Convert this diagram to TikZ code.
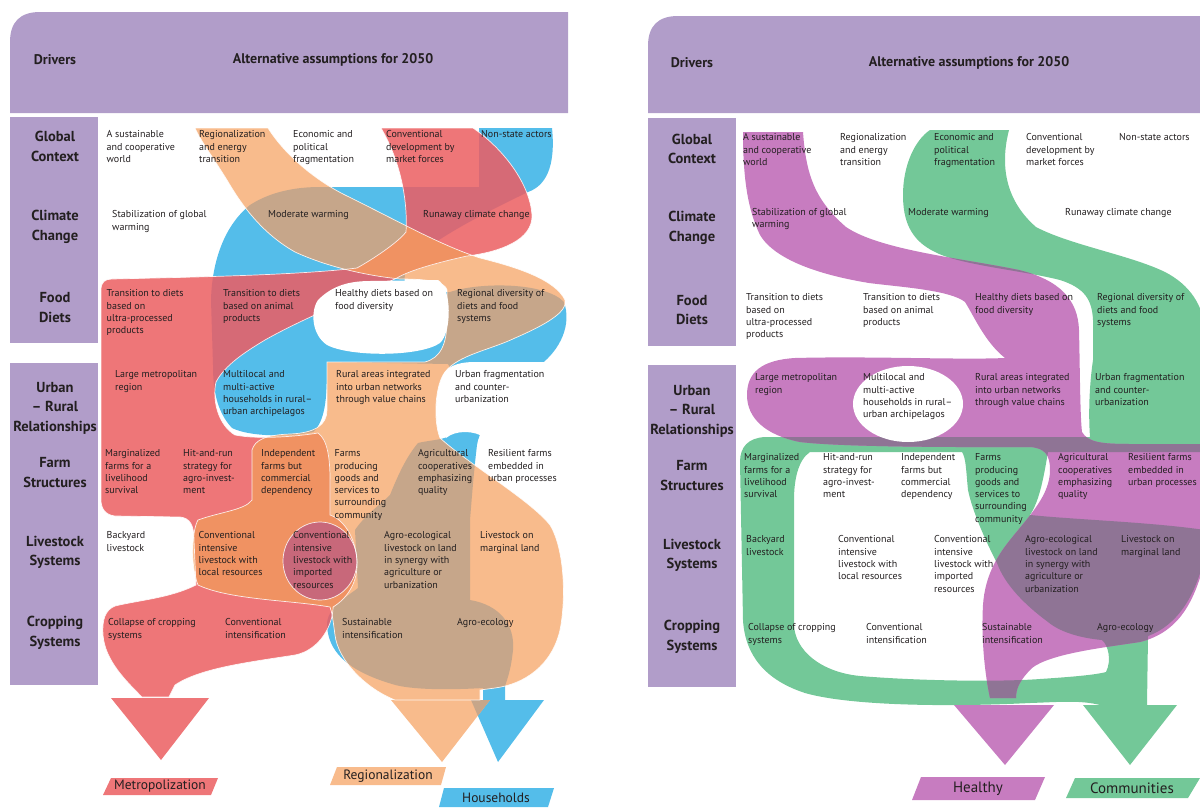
\documentclass[tikz,border=0pt]{standalone}
\usepackage{fontspec}
\setmainfont{PT Sans}
\definecolor{hdr}{RGB}{177,157,201}
\definecolor{txtc}{RGB}{35,31,32}
\definecolor{bl}{RGB}{84,189,234}
\definecolor{orc}{RGB}{248,187,140}
\definecolor{rdc}{RGB}{238,118,120}
\definecolor{brc}{RGB}{198,166,138}
\definecolor{drc}{RGB}{214,106,118}
\definecolor{doc}{RGB}{240,146,98}
\definecolor{mvc}{RGB}{200,104,122}
\definecolor{puc}{RGB}{199,124,192}
\definecolor{grc}{RGB}{115,200,152}
\definecolor{gyc}{RGB}{143,116,149}
\newcommand{\mycell}[4]{\node[cell] (#1) at (#2,#3) {#4};}
\newcommand{\myrow}[4]{\node[rowlab] (#1) at (#2,#3) {#4};}
% ---------- left panel paths
\def\pBlueL{(479,128) -- (552,128) .. controls (556,168) and (545,186) .. (528,192) .. controls (495,208) and (440,235) .. (415,258) .. controls (405,268) and (400,280) .. (410,292) -- (450,292) .. controls (480,282) and (545,282) .. (564,302) .. controls (572,325) and (560,350) .. (540,365) .. controls (520,385) and (480,420) .. (477,445) .. controls (474,470) and (472,495) .. (470,520) -- (470,600) .. controls (500,605) and (515,625) .. (513,650) .. controls (511,670) and (507,680) .. (505,686) -- (505,700) -- (483,700) -- (483,688) .. controls (450,690) and (410,690) .. (392,684) .. controls (345,670) and (328,650) .. (327,625) .. controls (327,608) and (345,598) .. (358,588) -- (355,530) .. controls (365,515) and (380,505) .. (390,495) .. controls (400,470) and (408,455) .. (418,443) .. controls (430,440) and (445,440) .. (450,435) .. controls (455,410) and (455,375) .. (448,364) -- (327,362) .. controls (327,390) and (327,420) .. (313,432) .. controls (290,437) and (250,437) .. (232,428) .. controls (215,410) and (213,385) .. (213,365) -- (211,300) .. controls (212,260) and (225,225) .. (250,205) .. controls (270,192) and (295,187) .. (320,187) -- (479,187) -- cycle}
\def\pOrangeL{(195,128) -- (268,128) .. controls (285,155) and (315,180) .. (345,195) .. controls (400,222) and (440,245) .. (480,258) .. controls (520,268) and (555,280) .. (565,300) .. controls (568,312) and (545,325) .. (515,338) .. controls (490,350) and (458,355) .. (445,372) .. controls (435,385) and (433,420) .. (440,438) .. controls (470,465) and (530,500) .. (550,525) .. controls (565,550) and (566,600) .. (560,630) .. controls (552,665) and (525,684) .. (495,688) -- (480,690) -- (480,700) -- (395,700) .. controls (365,688) and (338,660) .. (335,635) .. controls (333,620) and (332,612) .. (330,607) .. controls (290,600) and (230,600) .. (198,585) .. controls (190,565) and (192,530) .. (198,520) .. controls (220,512) and (245,510) .. (252,500) -- (252,450) .. controls (255,440) and (265,435) .. (290,434) .. controls (315,433) and (327,425) .. (327,410) -- (327,362) -- (425,362) .. controls (440,358) and (447,345) .. (447,320) -- (447,290) .. controls (445,282) and (430,279) .. (400,279) .. controls (370,276) and (330,268) .. (295,252) .. controls (265,235) and (245,210) .. (230,185) .. controls (215,160) and (200,140) .. (195,128) -- cycle}
\def\pRedL{(381,128) -- (473,128) .. controls (505,150) and (530,185) .. (532,215) .. controls (533,240) and (500,252) .. (467,256) .. controls (440,262) and (410,270) .. (397,278) .. controls (360,295) and (300,320) .. (265,340) .. controls (245,352) and (225,365) .. (216,382) .. controls (212,400) and (218,425) .. (235,435) .. controls (260,440) and (300,436) .. (318,433) .. controls (328,440) and (330,460) .. (330,480) -- (330,515) .. controls (345,520) and (357,540) .. (357,565) .. controls (357,585) and (345,600) .. (333,607) .. controls (333,625) and (320,650) .. (295,655) .. controls (250,662) and (200,668) .. (175,685) -- (169,697) -- (142,697) .. controls (125,680) and (105,660) .. (103,635) .. controls (102,620) and (105,610) .. (115,606) .. controls (140,600) and (170,598) .. (196,585) -- (194,540) .. controls (194,525) and (190,518) .. (180,517) -- (115,516) .. controls (105,515) and (101,508) .. (101,500) -- (101,290) .. controls (101,282) and (105,279) .. (112,279) .. controls (200,277) and (300,275) .. (357,268) .. controls (380,255) and (400,240) .. (406,232) .. controls (408,200) and (400,160) .. (381,128) -- cycle}
\def\pHoleL{(318,300) .. controls (330,288) and (345,281) .. (370,281) -- (438,280) .. controls (452,288) and (452,332) .. (440,343) .. controls (420,357) and (350,357) .. (327,345) .. controls (312,335) and (310,312) .. (318,300) -- cycle}
\def\pWone{(441,385) .. controls (441,368) and (455,362) .. (475,362) -- (575,362) -- (575,438) -- (485,438) .. controls (475,430) and (455,430) .. (446,438) .. controls (441,430) and (441,410) .. (441,385) -- cycle}
\def\pBlTri{(471,700) -- (544,700) -- (498,762) -- cycle}
\def\pOrTri{(391,700) -- (490,700) -- (442,762) -- cycle}
\def\pRdTri{(111,698) -- (209,698) -- (161,760) -- cycle}
% ---------- right panel paths
\def\pPurR{(743,132) -- (803,132) .. controls (806,175) and (815,200) .. (846,227) .. controls (880,250) and (960,258) .. (1019,270) .. controls (1060,280) and (1078,300) .. (1079,330) .. controls (1080,370) and (1080,415) .. (1082,432) .. controls (1088,442) and (1100,444) .. (1130,444) -- (1205,444) -- (1205,560) .. controls (1195,600) and (1180,632) .. (1140,642) .. controls (1100,648) and (1050,654) .. (1032,668) .. controls (1020,680) and (1016,688) .. (1016,698) -- (990,698) .. controls (985,675) and (981,640) .. (983,605) .. controls (985,575) and (998,555) .. (1010,540) .. controls (1030,515) and (1050,495) .. (1050,470) .. controls (1050,455) and (1045,448) .. (1030,447) .. controls (1000,447) and (850,448) .. (800,442) .. controls (765,435) and (747,418) .. (747,395) .. controls (747,372) and (762,360) .. (795,358) .. controls (870,356) and (960,360) .. (1005,358) .. controls (985,342) and (975,318) .. (965,302) .. controls (950,290) and (900,287) .. (869,283) .. controls (820,275) and (775,260) .. (760,235) .. controls (748,210) and (743,180) .. (743,132) -- cycle}
\def\pPuTri{(954,705) -- (1054,705) -- (1005,765) -- cycle}
\def\pGreenR{(930,130) -- (1009,130) .. controls (1000,165) and (1005,200) .. (1036,227) .. controls (1070,245) and (1130,255) .. (1165,272) .. controls (1190,285) and (1203,305) .. (1205,330) -- (1205,452) -- (1048,452) .. controls (1044,475) and (1040,500) .. (1030,515) .. controls (1080,520) and (1150,522) .. (1205,530) -- (1205,555) .. controls (1196,595) and (1178,625) .. (1148,636) -- (1147,705) -- (1100,705) .. controls (1080,700) and (1060,702) .. (1030,703) .. controls (950,707) and (850,706) .. (805,693) .. controls (765,680) and (745,655) .. (743,620) -- (740,462) .. controls (740,447) and (748,438) .. (765,437) -- (1090,437) .. controls (1088,410) and (1090,380) .. (1093,360) -- (1093,320) .. controls (1092,300) and (1085,288) .. (1060,280) .. controls (1020,270) and (960,265) .. (935,252) .. controls (910,240) and (903,220) .. (903,195) .. controls (903,165) and (915,140) .. (930,130) -- cycle
 (810,452) .. controls (798,460) and (794,480) .. (794,500) -- (794,625) .. controls (795,650) and (820,672) .. (860,676) .. controls (920,681) and (1000,682) .. (1040,679) .. controls (1070,677) and (1095,675) .. (1106,672) .. controls (1112,660) and (1108,645) .. (1102,640) .. controls (1080,638) and (1060,632) .. (1048,622) .. controls (1025,605) and (1005,585) .. (997,563) .. controls (985,540) and (972,510) .. (968,490) .. controls (966,470) and (966,458) .. (962,452) -- cycle}
\def\pGrTri{(1083,705) -- (1177,705) -- (1130,765) -- cycle}
\begin{document}
\begin{tikzpicture}[x=1pt,y=-1pt,
  cell/.style={anchor=north west, inner sep=0pt, align=left, font=\fontsize{10}{12.3}\selectfont, text=txtc},
  rowlab/.style={anchor=center, inner sep=0pt, align=center, font=\bfseries\fontsize{14.5}{19.5}\selectfont, text=txtc},
  headtxt/.style={anchor=center, inner sep=0pt, font=\bfseries\fontsize{14}{16}\selectfont, text=txtc},
  outlab/.style={anchor=center, inner sep=0pt, font=\fontsize{13.5}{15}\selectfont, text=txtc},
  outlabr/.style={anchor=center, inner sep=0pt, font=\fontsize{15}{17}\selectfont, text=txtc},
  seam/.style={draw=white, line width=0.7pt, opacity=0.85}]
\useasboundingbox (0,0) rectangle (1200,809);
% headers and driver boxes
\fill[hdr] (10,113) -- (10,42) .. controls (10,22) and (20,12) .. (40,12) -- (568,12) -- (568,113) -- cycle;
\fill[hdr] (10,117) rectangle (98,343);
\fill[hdr] (10,363) rectangle (98,685);
\fill[hdr] (648,113) -- (648,46) .. controls (648,26) and (658,16) .. (678,16) -- (1205,16) -- (1205,113) -- cycle;
\fill[hdr] (648,118) rectangle (736,346);
\fill[hdr] (648,365) rectangle (736,687);
% ---- left ribbons
\fill[bl] \pBlueL;
\fill[bl] \pBlTri;
\fill[orc] \pOrangeL;
\fill[orc] \pOrTri;
\fill[rdc] \pRedL;
\fill[rdc] \pRdTri;
\begin{scope}\clip \pBlueL; \fill[brc] \pOrangeL; \fill[drc] \pRedL; \end{scope}
\begin{scope}\clip \pBlTri; \fill[brc] \pOrTri; \end{scope}
\begin{scope}\clip \pOrangeL; \fill[doc] \pRedL; \end{scope}
\fill[mvc] (320,561) ellipse [x radius=37, y radius=39];
\draw[seam] \pOrangeL;
\draw[seam] \pRedL;
\draw[seam] (320,561) ellipse [x radius=37, y radius=39];
\fill[white] \pHoleL;
\fill[white] \pWone;
% ---- right ribbons
\fill[grc, even odd rule] \pGreenR;
\fill[grc] \pGrTri;
\fill[puc] \pPurR;
\fill[puc] \pPuTri;
\begin{scope}[even odd rule]\clip \pGreenR; \fill[gyc] \pPurR; \end{scope}
\fill[white] (908,404) ellipse [x radius=55, y radius=38];
% ---- outcome labels
\fill[rdc] (103,795) -- (111,778) -- (218,778) -- (211,795) -- cycle;
\node[outlab] (metro) at (160,786.5) {Metropolization};
\fill[orc] (330,785) -- (337,767) -- (446,767) -- (441,785) -- cycle;
\node[outlab] (regio) at (388,776) {Regionalization};
\fill[bl] (439,807) -- (444,788) -- (554,788) -- (548,807) -- cycle;
\node[outlab] (house) at (496,797.5) {Households};
\fill[puc] (912,800) -- (921,777) -- (1045,777) -- (1035,800) -- cycle;
\node[outlabr] (healthy) at (978,788.5) {Healthy};
\fill[grc] (1066,798) -- (1075,778) -- (1200,778) -- (1188,798) -- cycle;
\node[outlabr] (commun) at (1132,788) {Communities};
% ---- header texts
\node[headtxt] (ldrv) at (55,60) {Drivers};
\node[headtxt] (lalt) at (333,60) {Alternative assumptions for 2050};
\node[headtxt] (rdrv) at (692,63) {Drivers};
\node[headtxt] (ralt) at (969,63) {Alternative assumptions for 2050};
% ---- row labels
\myrow{lr1}{55}{146.5}{Global\\Context}
\myrow{lr2}{55}{227}{Climate\\Change}
\myrow{lr3}{55}{307.5}{Food\\Diets}
\myrow{lr4}{55}{408}{Urban\\– Rural\\Relationships}
\myrow{lr5}{55}{472.5}{Farm\\Structures}
\myrow{lr6}{55}{552.5}{Livestock\\Systems}
\myrow{lr7}{55}{633}{Cropping\\Systems}
\myrow{rr1}{692}{149}{Global\\Context}
\myrow{rr2}{692}{228}{Climate\\Change}
\myrow{rr3}{692}{310}{Food\\Diets}
\myrow{rr4}{692}{411}{Urban\\– Rural\\Relationships}
\myrow{rr5}{692}{475.5}{Farm\\Structures}
\myrow{rr6}{692}{555.5}{Livestock\\Systems}
\myrow{rr7}{692}{637}{Cropping\\Systems}
% ---- left cells
\mycell{lg1}{106.5}{130.5}{A sustainable\\and cooperative\\world}
\mycell{lg2}{199}{130.5}{Regionalization\\and energy\\transition}
\mycell{lg3}{293}{130.5}{Economic and\\political\\fragmentation}
\mycell{lg4}{386}{130.5}{Conventional\\development by\\market forces}
\mycell{lg5}{481}{130.5}{Non-state actors}
\mycell{lc1}{112}{210.5}{Stabilization of global\\warming}
\mycell{lc2}{268}{210.5}{Moderate warming}
\mycell{lc3}{423}{210.5}{Runaway climate change}
\mycell{lf1}{106.5}{289.5}{Transition to diets\\based on\\ultra-processed\\products}
\mycell{lf2}{223}{289.5}{Transition to diets\\based on animal\\products}
\mycell{lf3}{335}{289.5}{Healthy diets based on\\food diversity}
\mycell{lf4}{457}{289.5}{Regional diversity of\\diets and food\\systems}
\mycell{lu1}{115}{370.5}{Large metropolitan\\region}
\mycell{lu2}{223}{370.5}{Multilocal and\\multi-active\\households in rural–\\urban archipelagos}
\mycell{lu3}{336}{370.5}{Rural areas integrated\\into urban networks\\through value chains}
\mycell{lu4}{455}{370.5}{Urban fragmentation\\and counter-\\urbanization}
\mycell{lm1}{105}{449.5}{Marginalized\\farms for a\\livelihood\\survival}
\mycell{lm2}{183}{449.5}{Hit-and-run\\strategy for\\agro-invest-\\ment}
\mycell{lm3}{261}{449.5}{Independent\\farms but\\commercial\\dependency}
\mycell{lm4}{334.5}{449.5}{Farms\\producing\\goods and\\services to\\surrounding\\community}
\mycell{lm5}{418}{449.5}{Agricultural\\cooperatives\\emphasizing\\quality}
\mycell{lm6}{488}{449.5}{Resilient farms\\embedded in\\urban processes}
\mycell{ll1}{106.5}{531.5}{Backyard\\livestock}
\mycell{ll2}{198.5}{531.5}{Conventional\\intensive\\livestock with\\local resources}
\mycell{ll3}{293}{531.5}{Conventional\\intensive\\livestock with\\imported\\resources}
\mycell{ll4}{384}{531.5}{Agro-ecological\\livestock on land\\in synergy with\\agriculture or\\urbanization}
\mycell{ll5}{480}{531.5}{Livestock on\\marginal land}
\mycell{lp1}{108}{618.5}{Collapse of cropping\\systems}
\mycell{lp2}{225}{618.5}{Conventional\\intensification}
\mycell{lp3}{342}{618.5}{Sustainable\\intensification}
\mycell{lp4}{457}{618.5}{Agro-ecology}
% ---- right cells
\mycell{rg1}{743}{133.5}{A sustainable\\and cooperative\\world}
\mycell{rg2}{840}{133.5}{Regionalization\\and energy\\transition}
\mycell{rg3}{934}{133.5}{Economic and\\political\\fragmentation}
\mycell{rg4}{1026}{133.5}{Conventional\\development by\\market forces}
\mycell{rg5}{1119}{133.5}{Non-state actors}
\mycell{rc1}{752}{208}{Stabilization of global\\warming}
\mycell{rc2}{908}{208}{Moderate warming}
\mycell{rc3}{1065}{208}{Runaway climate change}
\mycell{rf1}{746}{293.5}{Transition to diets\\based on\\ultra-processed\\products}
\mycell{rf2}{863}{293.5}{Transition to diets\\based on animal\\products}
\mycell{rf3}{975}{293.5}{Healthy diets based on\\food diversity}
\mycell{rf4}{1097}{293.5}{Regional diversity of\\diets and food\\systems}
\mycell{ru1}{755}{373.5}{Large metropolitan\\region}
\mycell{ru2}{863}{373.5}{Multilocal and\\multi-active\\households in rural–\\urban archipelagos}
\mycell{ru3}{975}{373.5}{Rural areas integrated\\into urban networks\\through value chains}
\mycell{ru4}{1095}{373.5}{Urban fragmentation\\and counter-\\urbanization}
\mycell{rm1}{744}{453.5}{Marginalized\\farms for a\\livelihood\\survival}
\mycell{rm2}{823}{453.5}{Hit-and-run\\strategy for\\agro-invest-\\ment}
\mycell{rm3}{901}{453.5}{Independent\\farms but\\commercial\\dependency}
\mycell{rm4}{975}{453.5}{Farms\\producing\\goods and\\services to\\surrounding\\community}
\mycell{rm5}{1058}{453.5}{Agricultural\\cooperatives\\emphasizing\\quality}
\mycell{rm6}{1128}{453.5}{Resilient farms\\embedded in\\urban processes}
\mycell{rl1}{746}{535.5}{Backyard\\livestock}
\mycell{rl2}{838}{535.5}{Conventional\\intensive\\livestock with\\local resources}
\mycell{rl3}{934}{535.5}{Conventional\\intensive\\livestock with\\imported\\resources}
\mycell{rl4}{1025}{535.5}{Agro-ecological\\livestock on land\\in synergy with\\agriculture or\\urbanization}
\mycell{rl5}{1121}{535.5}{Livestock on\\marginal land}
\mycell{rp1}{748}{623.5}{Collapse of cropping\\systems}
\mycell{rp2}{866}{623.5}{Conventional\\intensification}
\mycell{rp3}{982}{623.5}{Sustainable\\intensification}
\mycell{rp4}{1097}{623.5}{Agro-ecology}
\end{tikzpicture}
\end{document}
